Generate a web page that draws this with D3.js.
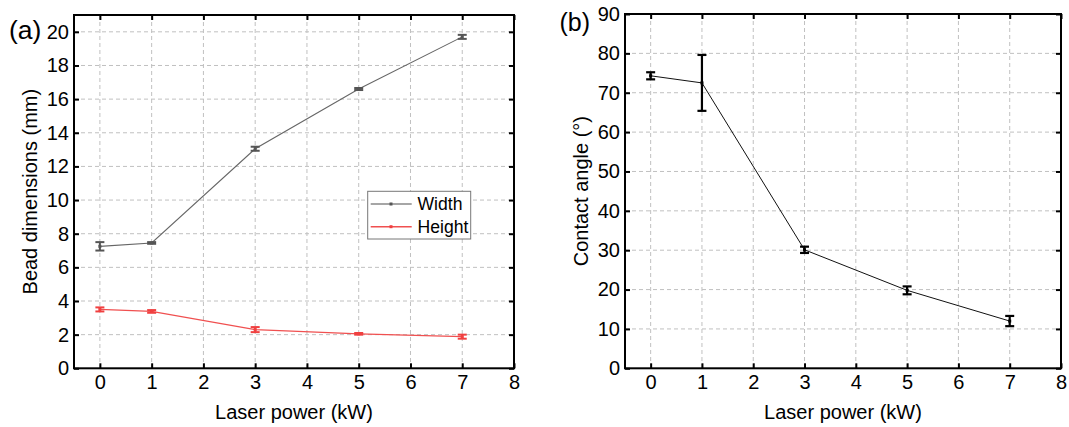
<!DOCTYPE html>
<html><head><meta charset="utf-8">
<script src="https://cdn.jsdelivr.net/npm/d3@7"></script>
<style>body{margin:0;background:#fff}svg{display:block;font-family:"Liberation Sans",Arial,sans-serif}</style>
</head><body><svg id="c" width="1069" height="427"></svg>
<script>
const power = [0, 1, 3, 5, 7];
const widthVals = [7.25, 7.45, 13.05, 16.6, 19.7];
const widthErr = [0.25, 0.05, 0.12, 0.06, 0.12];
const heightVals = [3.5, 3.38, 2.3, 2.05, 1.88];
const heightErr = [0.12, 0.08, 0.15, 0.05, 0.12];
const angleVals = [74.3, 72.5, 30.1, 19.8, 12.0];
const angleErr = [0.9, 7.1, 0.8, 1.0, 1.3];
const xTicks = [0,1,2,3,4,5,6,7,8];
const yTicksA = [0,2,4,6,8,10,12,14,16,18,20];
const yTicksB = [0,10,20,30,40,50,60,70,80,90];
const xTitle = "Laser power (kW)";
const yTitleA = "Bead dimensions (mm)";
const yTitleB = "Contact angle (°)";
const seriesNames = ["Width", "Height"];

const svg = d3.select("#c");

function panel(opt){
  const g = svg.append("g");
  const x = d3.scaleLinear().domain([-0.5, 8]).range([opt.left, opt.right]);
  const y = d3.scaleLinear().domain(opt.ydom).range([opt.bottom, opt.top]);
  g.append("g").selectAll("line").data(xTicks.filter(t=>t<8)).join("line")
    .attr("x1",d=>x(d)).attr("x2",d=>x(d)).attr("y1",opt.top).attr("y2",opt.bottom)
    .attr("stroke","#c0c0c0").attr("stroke-width",1).attr("stroke-dasharray","4,3");
  g.append("g").selectAll("line").data(opt.yticks.filter(t=>t>opt.ydom[0] && t<opt.ydom[1])).join("line")
    .attr("y1",d=>y(d)).attr("y2",d=>y(d)).attr("x1",opt.left).attr("x2",opt.right)
    .attr("stroke","#c0c0c0").attr("stroke-width",1).attr("stroke-dasharray","4,3");
  g.append("g").attr("transform",`translate(0,${opt.bottom})`)
    .call(d3.axisBottom(x).tickValues(xTicks).tickSize(-5).tickPadding(7).tickFormat(d3.format("d")));
  g.append("g").attr("transform",`translate(${opt.left},0)`)
    .call(d3.axisLeft(y).tickValues(opt.yticks).tickSize(-5).tickPadding(5).tickFormat(d3.format("d")));
  g.append("g").attr("transform",`translate(0,${opt.top})`)
    .call(d3.axisTop(x).tickValues(xTicks).tickSize(-5).tickFormat(""));
  g.append("g").attr("transform",`translate(${opt.right},0)`)
    .call(d3.axisRight(y).tickValues(opt.yticks).tickSize(-5).tickFormat(""));
  g.selectAll(".domain").remove();
  g.selectAll(".tick line").attr("stroke","#000").attr("stroke-width",2);
  g.selectAll(".tick text").attr("font-size",20).attr("fill","#000").attr("font-family","Liberation Sans, Arial, sans-serif");
  g.append("rect").attr("x",opt.left).attr("y",opt.top).attr("width",opt.right-opt.left).attr("height",opt.bottom-opt.top)
    .attr("fill","none").attr("stroke","#000").attr("stroke-width",2);
  g.append("text").attr("x",(opt.left+opt.right)/2).attr("y",419).attr("text-anchor","middle")
    .attr("font-size",20).text(xTitle);
  g.append("text").attr("transform",`translate(${opt.left-37},${(opt.top+opt.bottom)/2}) rotate(-90)`)
    .attr("text-anchor","middle").attr("font-size",20).text(opt.ytitle);
  g.append("text").attr("x",opt.lx).attr("y",opt.ly).attr("font-size",opt.lfs).text(opt.label);
  return {g,x,y};
}

function series(p, vals, errs, color, lcolor, lw, ew, cap, ms){
  const line = d3.line().x((d,i)=>p.x(power[i])).y(d=>p.y(d));
  p.g.append("path").datum(vals).attr("d",line).attr("fill","none").attr("stroke",lcolor).attr("stroke-width",lw);
  const eg = p.g.append("g").attr("stroke",color).attr("stroke-width",ew);
  vals.forEach((v,i)=>{
    const cx = p.x(power[i]), y1 = p.y(v+errs[i]), y2 = p.y(v-errs[i]);
    eg.append("line").attr("x1",cx).attr("x2",cx).attr("y1",y1).attr("y2",y2);
    eg.append("line").attr("x1",cx-cap).attr("x2",cx+cap).attr("y1",y1).attr("y2",y1);
    eg.append("line").attr("x1",cx-cap).attr("x2",cx+cap).attr("y1",y2).attr("y2",y2);
  });
  p.g.append("g").selectAll("rect").data(vals).join("rect")
    .attr("x",(d,i)=>p.x(power[i])-ms/2).attr("y",d=>p.y(d)-ms/2).attr("width",ms).attr("height",ms).attr("fill",color);
}

const A = panel({left:74,right:514,top:15,bottom:368.3,ydom:[0,21],yticks:yTicksA,ytitle:yTitleA,lx:9,ly:38.5,lfs:26.5,label:"(a)"});
series(A, widthVals, widthErr, "#555555", "#666666", 1.1, 2, 4.5, 3);
series(A, heightVals, heightErr, "#f04040", "#f05050", 1.3, 2, 4.5, 3);

const lg = A.g.append("g");
lg.append("rect").attr("x",367.7).attr("y",191.3).attr("width",103).attr("height",47.7)
  .attr("fill","#fff").attr("stroke","#777").attr("stroke-width",1);
[["#888888","#555555",204],["#f05050","#f04040",226.7]].forEach((c,i)=>{
  lg.append("line").attr("x1",370.7).attr("x2",411.7).attr("y1",c[2]).attr("y2",c[2]).attr("stroke",c[0]).attr("stroke-width",1.5);
  lg.append("rect").attr("x",389.5).attr("y",c[2]-1.5).attr("width",3).attr("height",3).attr("fill",c[1]);
  lg.append("text").attr("x",417.5).attr("y",c[2]+6.3).attr("font-size",17.6).text(seriesNames[i]);
});

const B = panel({left:625,right:1061,top:14,bottom:368.3,ydom:[0,90],yticks:yTicksB,ytitle:yTitleB,lx:559.5,ly:31,lfs:25,label:"(b)"});
series(B, angleVals, angleErr, "#000000", "#111111", 1, 2.2, 4.5, 3);
</script></body></html>
